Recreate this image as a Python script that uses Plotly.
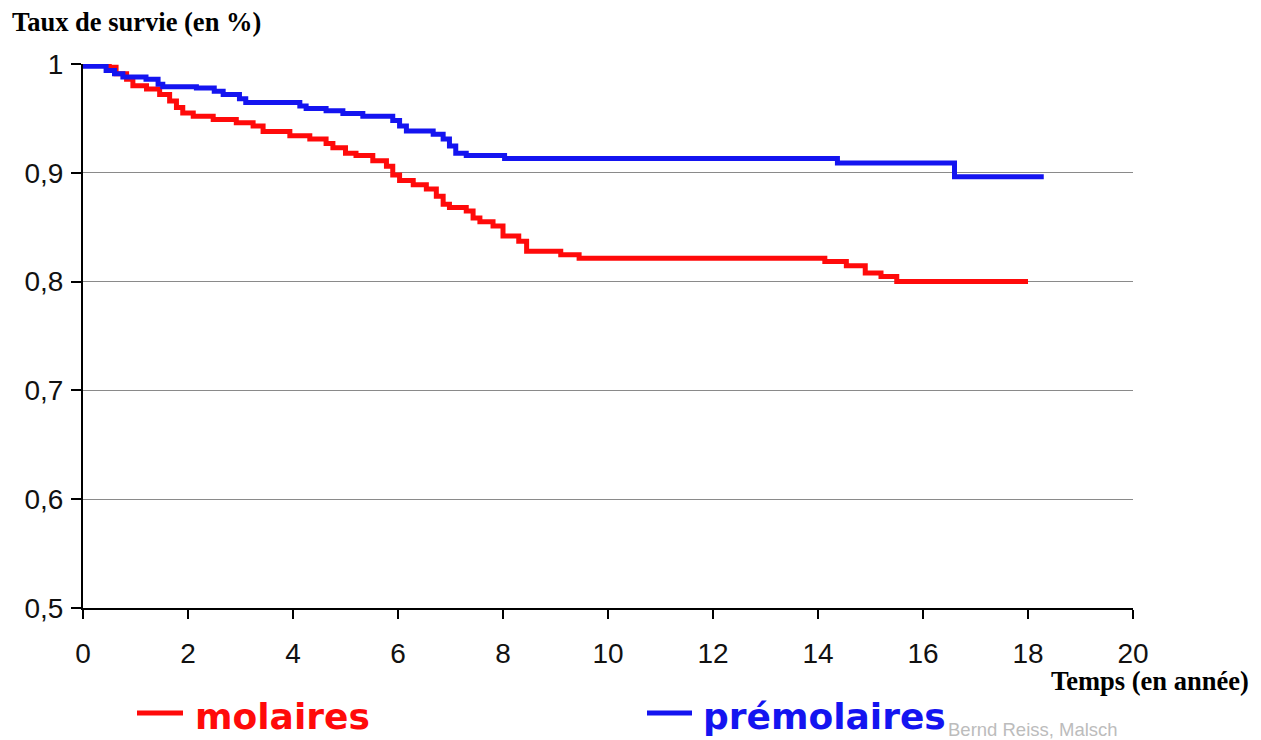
import plotly.graph_objects as go

# --- Data ---
molaires_t = [0, 0.5, 0.63, 0.83, 0.95, 1.21, 1.46, 1.65, 1.78, 1.9, 2.1, 2.48, 2.92, 3.24, 3.43,
              3.94, 4.32, 4.63, 4.76, 5.0, 5.2, 5.52, 5.78, 5.9, 6.03, 6.29, 6.54, 6.73, 6.86, 6.98,
              7.3, 7.43, 7.56, 7.81, 8.0, 8.3, 8.45, 9.1, 9.45, 14.13, 14.54, 14.9, 15.2, 15.5, 18.0]
molaires_s = [1.0, 0.997, 0.991, 0.986, 0.98, 0.977, 0.972, 0.966, 0.96, 0.955, 0.952, 0.949, 0.946,
              0.943, 0.938, 0.934, 0.931, 0.927, 0.923, 0.918, 0.916, 0.911, 0.906, 0.898, 0.893,
              0.889, 0.885, 0.8785, 0.871, 0.868, 0.865, 0.8585, 0.855, 0.851, 0.842, 0.837, 0.828,
              0.8246, 0.8215, 0.8185, 0.8145, 0.808, 0.8046, 0.80, 0.80]

premolaires_t = [0, 0.44, 0.6, 0.76, 1.2, 1.43, 1.52, 2.16, 2.5, 2.67, 2.98, 3.1, 4.13, 4.25, 4.63,
                 4.95, 5.33, 5.9, 6.03, 6.16, 6.67, 6.86, 6.98, 7.1, 7.3, 8.03, 14.37, 16.6, 18.3]
premolaires_s = [0.998, 0.994, 0.991, 0.988, 0.986, 0.9815, 0.979, 0.978, 0.975, 0.972, 0.968, 0.9646,
                 0.9615, 0.959, 0.957, 0.9545, 0.952, 0.948, 0.943, 0.9385, 0.9354, 0.931, 0.9246,
                 0.918, 0.916, 0.9132, 0.909, 0.8963, 0.8963]

x_ticks = [0, 2, 4, 6, 8, 10, 12, 14, 16, 18, 20]
y_ticks = [0.5, 0.6, 0.7, 0.8, 0.9, 1.0]

RED = "#ff0a0a"
BLUE = "#1414f0"

fig = go.Figure()
fig.add_trace(go.Scatter(x=molaires_t, y=molaires_s, mode="lines", name="molaires",
                         line=dict(color=RED, width=5, shape="hv"), cliponaxis=False))
fig.add_trace(go.Scatter(x=premolaires_t, y=premolaires_s, mode="lines", name="prémolaires",
                         line=dict(color=BLUE, width=5, shape="hv"), cliponaxis=False))

L, R, T, B = 83, 128, 64, 132
W, H = 1261, 740
pw, ph = W - L - R, H - T - B

def px(xp):
    return (xp - L) / pw

def py(yp):
    return (H - B - yp) / ph

tickfont = dict(family="Liberation Sans, Arial, sans-serif", size=28, color="#111111")

fig.update_layout(
    width=W, height=H,
    margin=dict(l=L, r=R, t=T, b=B, pad=0),
    paper_bgcolor="white", plot_bgcolor="white",
    separators=", ",
    showlegend=False,
    xaxis=dict(range=[0, 20], tickvals=x_ticks, ticks="outside", ticklen=9, tickwidth=2,
               tickcolor="black", showline=True, linecolor="black", linewidth=2,
               showgrid=False, zeroline=False, tickfont=tickfont, ticklabelstandoff=10),
    yaxis=dict(range=[0.5, 1.0], tickvals=y_ticks, ticks="outside", ticklen=10, tickwidth=2,
               tickcolor="black", showline=True, linecolor="black", linewidth=2,
               showgrid=True, gridcolor="#8a8a8a", gridwidth=1, zeroline=False,
               tickfont=tickfont, ticklabelstandoff=2),
)

serif_bold = dict(family="Liberation Serif, Times New Roman, serif", size=26.5, color="black")
legfont = "DejaVu Sans, Verdana, sans-serif"

annotations = [
    dict(text="<b>Taux de survie (en %)</b>", x=px(10), y=py(22), xref="paper", yref="paper",
         xanchor="left", yanchor="middle", showarrow=False, font=serif_bold),
    dict(text="<b>Temps (en année)</b>", x=px(1251), y=py(681), xref="paper", yref="paper",
         xanchor="right", yanchor="middle", showarrow=False, font=serif_bold),
    dict(text="Bernd Reiss, Malsch", x=px(1120), y=py(729), xref="paper", yref="paper",
         xanchor="right", yanchor="middle", showarrow=False,
         font=dict(family="Liberation Sans, Arial, sans-serif", size=18.5, color="#bcbcbc")),
    dict(text="<b>molaires</b>", x=px(193), y=py(716), xref="paper", yref="paper",
         xanchor="left", yanchor="middle", showarrow=False,
         font=dict(family=legfont, size=36, color=RED)),
    dict(text="<b>prémolaires</b>", x=px(701), y=py(716), xref="paper", yref="paper",
         xanchor="left", yanchor="middle", showarrow=False,
         font=dict(family=legfont, size=36, color=BLUE)),
]
fig.update_layout(annotations=annotations)

shapes = [
    dict(type="line", xref="paper", yref="paper", x0=px(137), x1=px(183), y0=py(713), y1=py(713),
         line=dict(color=RED, width=5)),
    dict(type="line", xref="paper", yref="paper", x0=px(647), x1=px(692), y0=py(713), y1=py(713),
         line=dict(color=BLUE, width=5)),
]
fig.update_layout(shapes=shapes)

fig.write_html("out.html")
